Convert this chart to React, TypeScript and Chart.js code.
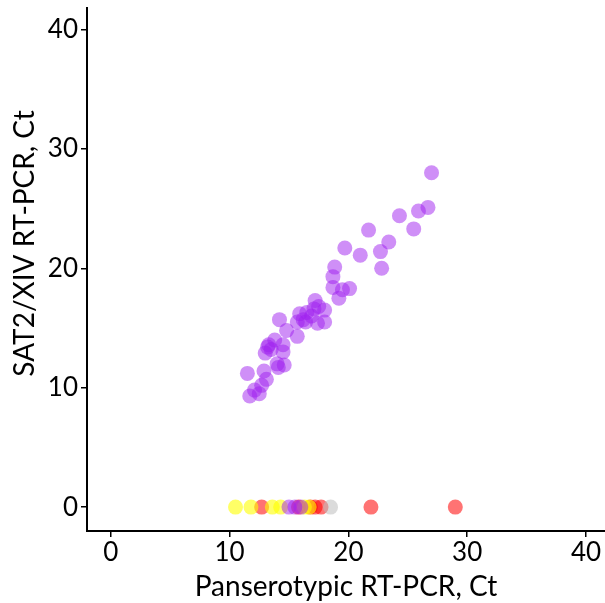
import React, { useEffect, useRef } from "react";
import { Chart, registerables } from "chart.js";

Chart.register(...registerables);

const purpleX = [27.0, 26.7, 25.9, 24.3, 25.5, 21.7, 23.4, 19.7, 21.0, 22.7, 22.8, 18.85, 18.7, 18.7, 19.5, 20.1, 19.2, 17.2, 18.0, 17.1, 16.5, 15.9, 14.2, 18.0, 15.7, 16.4, 17.4, 14.8, 15.7, 13.8, 13.2, 14.5, 14.5, 13.0, 14.6, 14.1, 12.9, 11.5, 13.1, 12.7, 12.1, 11.7, 12.5, 16.9, 17.5, 16.2, 13.5, 14.0, 13.3, 15.0, 15.5, 16.0];
const purpleY = [28.0, 25.1, 24.8, 24.4, 23.3, 23.2, 22.2, 21.7, 21.1, 21.4, 20.0, 20.1, 19.3, 18.4, 18.2, 18.3, 17.5, 17.3, 16.5, 16.6, 16.3, 16.2, 15.7, 15.5, 15.5, 15.5, 15.4, 14.8, 14.3, 14.0, 13.4, 13.6, 13.0, 12.9, 11.9, 11.7, 11.4, 11.2, 10.7, 10.2, 9.8, 9.3, 9.5, 16.0, 16.8, 15.7, 13.2, 12.0, 13.6, 0, 0, 0];
const yellowX = [10.5, 11.8, 13.6, 14.3, 16.3, 16.7];
const yellowY = [0, 0, 0, 0, 0, 0];
const redX = [12.7, 15.8, 16.8, 17.2, 17.7, 21.9, 29.0];
const redY = [0, 0, 0, 0, 0, 0, 0];
const greyX = [18.5];
const greyY = [0];
const tickValues = [0, 10, 20, 30, 40];
const xTitle = "Panserotypic RT-PCR, Ct";
const yTitle = "SAT2/XIV RT-PCR, Ct";

const toPts = (xs: number[], ys: number[]) => xs.map((x, i) => ({ x, y: ys[i] }));

export default function App() {
  const ref = useRef<HTMLCanvasElement>(null);
  useEffect(() => {
    if (!ref.current) return;
    const font = "Lato";
    const mk = (data: { x: number; y: number }[], color: string) => ({
      data,
      backgroundColor: color,
      borderWidth: 0,
      pointRadius: 7.5,
      pointHoverRadius: 7.5,
    });
    const yTitlePlugin = {
      id: "yTitle",
      afterDraw(chart: any) {
        const ctx = chart.ctx;
        const area = chart.chartArea;
        ctx.save();
        ctx.fillStyle = "#000";
        ctx.font = `28px ${font}`;
        ctx.textAlign = "center";
        ctx.textBaseline = "middle";
        ctx.translate(25, (area.top + area.bottom) / 2 - 26);
        ctx.rotate(-Math.PI / 2);
        ctx.fillText(yTitle, 0, 0);
        ctx.restore();
      },
    };
    const chart = new Chart(ref.current, {
      type: "scatter",
      data: {
        datasets: [
          mk(toPts(purpleX, purpleY), "rgba(160,32,240,0.5)"),
          mk(toPts(greyX, greyY), "rgba(190,190,190,0.55)"),
          mk(toPts(yellowX, yellowY), "rgba(255,255,0,0.6)"),
          mk(toPts(redX, redY), "rgba(255,0,0,0.55)"),
        ],
      },
      plugins: [yTitlePlugin],
      options: {
        animation: false,
        responsive: false,
        layout: { autoPadding: false, padding: { top: 8, right: 0, left: 0, bottom: 0 } },
        plugins: { legend: { display: false }, tooltip: { enabled: false } },
        scales: {
          x: {
            type: "linear",
            min: -2,
            max: 41.6,
            afterFit: (s: any) => { s.height = 72; s.paddingLeft = 0; s.paddingRight = 0; },
            afterBuildTicks: (s: any) => { s.ticks = tickValues.map((v) => ({ value: v })); },
            ticks: { includeBounds: false, color: "#000", font: { family: font, size: 26 }, padding: 0 },
            grid: { drawOnChartArea: false, drawTicks: true, tickLength: 6, color: "#000", lineWidth: 1.5 },
            border: { color: "#000", width: 2 },
            title: { display: true, text: xTitle, color: "#000", font: { family: font, size: 28 }, padding: { top: 0, bottom: -1 } },
          },
          y: {
            type: "linear",
            min: -2,
            max: 41.8,
            afterFit: (s: any) => { s.width = 87; s.paddingTop = 0; s.paddingBottom = 0; },
            afterBuildTicks: (s: any) => { s.ticks = tickValues.map((v) => ({ value: v })); },
            ticks: { includeBounds: false, color: "#000", font: { family: font, size: 26 }, padding: 3 },
            grid: { drawOnChartArea: false, drawTicks: true, tickLength: 6, color: "#000", lineWidth: 1.5 },
            border: { color: "#000", width: 2 },
            title: { display: false },
          },
        },
      },
    });
    return () => chart.destroy();
  }, []);
  return (
    <div style={{ position: "fixed", left: 0, top: 0, width: 605, height: 603, background: "#fff" }}>
      <canvas ref={ref} width={605} height={603} style={{ width: 605, height: 603 }} />
    </div>
  );
}
